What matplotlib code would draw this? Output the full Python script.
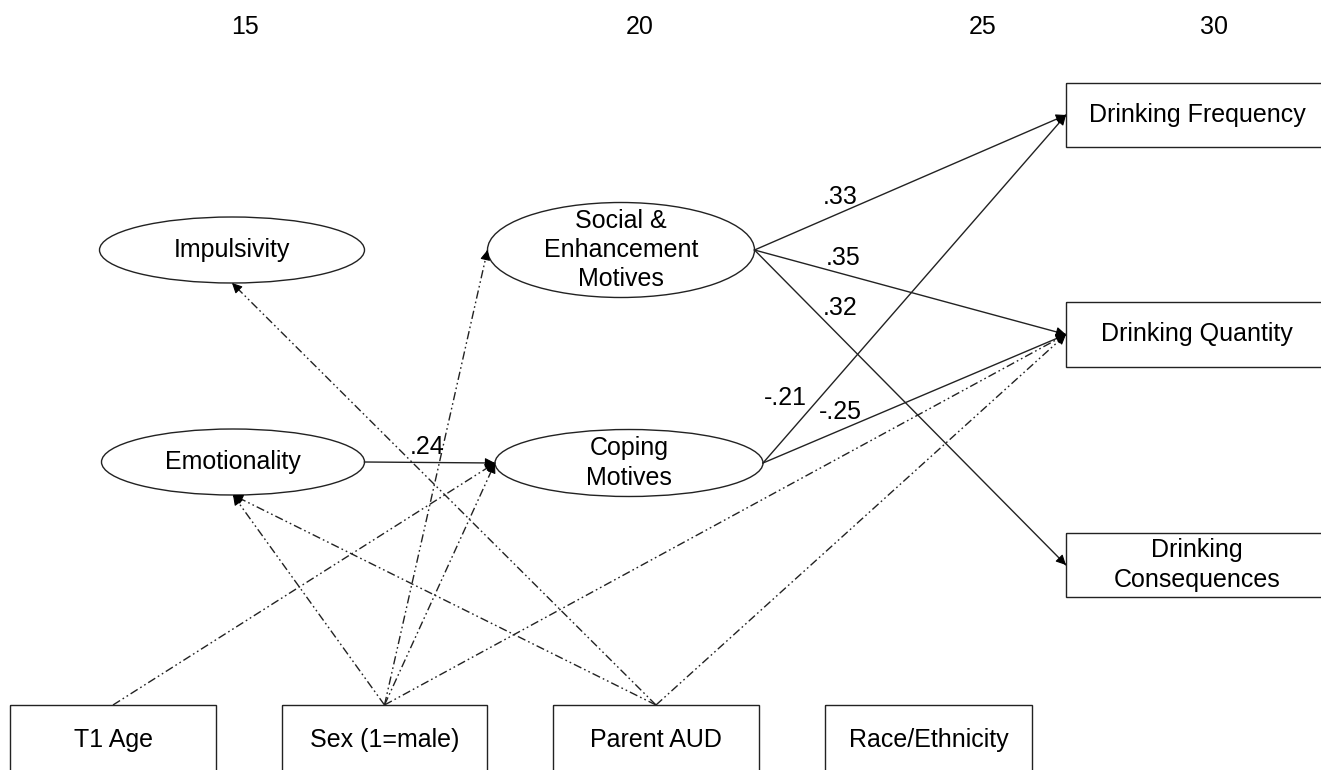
import numpy as np
import matplotlib
matplotlib.use('Agg')
import matplotlib.pyplot as plt
from matplotlib.patches import Ellipse, Rectangle

plt.rcParams['font.family'] = ['Liberation Sans', 'DejaVu Sans']

# age scale printed along the top
age_ticks = ['15', '20', '25', '30']
age_x = [245, 640, 983, 1214]

# latent variables (ellipses): label, centre, width, height
latent_names = ['Impulsivity', 'Emotionality', 'Social', 'Coping']
latent_text = ['Impulsivity', 'Emotionality', 'Social &\nEnhancement\nMotives', 'Coping\nMotives']
latent_xy = [(232, 250), (233, 462), (621, 250), (629, 463)]
latent_size = [(265, 66), (263, 66), (267, 95), (268, 67)]

# observed variables (boxes): label, left, top, width, height
box_names = ['DF', 'DQ', 'DC', 'T1 Age', 'Sex', 'Parent AUD', 'Race']
box_text = ['Drinking Frequency', 'Drinking Quantity', 'Drinking\nConsequences',
            'T1 Age', 'Sex (1=male)', 'Parent AUD', 'Race/Ethnicity']
box_xy = [(1066, 83), (1066, 302), (1066, 533),
          (10, 705), (282, 705), (553, 705), (825, 705)]
box_size = [(262, 64), (262, 65), (262, 64),
            (206, 70), (205, 70), (206, 70), (207, 70)]

# significant paths (solid) with standardized coefficients
path_from = ['Emotionality', 'Social', 'Social', 'Social', 'Coping', 'Coping']
path_to = ['Coping', 'DF', 'DQ', 'DC', 'DF', 'DQ']
path_coef = ['.24', '.33', '.35', '.32', '-.21', '-.25']
coef_xy = [(427, 447), (840, 197), (843, 258), (840, 308), (785, 398), (840, 412)]

# covariate paths (dash-dot-dot)
cov_from = ['Parent AUD', 'Sex', 'Sex', 'Sex', 'Sex', 'T1 Age', 'Parent AUD', 'Parent AUD']
cov_to = ['Impulsivity', 'Social', 'Coping', 'Emotionality', 'DQ', 'Coping', 'Emotionality', 'DQ']

W, H = 1321, 770
fig = plt.figure(figsize=(W / 100, H / 100), dpi=100)
ax = fig.add_axes([0, 0, 1, 1])
ax.set_xlim(0, W)
ax.set_ylim(H, 0)
ax.axis('off')

nodes = {}
for name, txt, (cx, cy), (w, h) in zip(latent_names, latent_text, latent_xy, latent_size):
    ax.add_patch(Ellipse((cx, cy), w, h, fill=False, ec='#222222', lw=1.0))
    ax.text(cx, cy, txt, ha='center', va='center', fontsize=18, linespacing=1.27)
    nodes[name] = dict(left=(cx - w / 2, cy), right=(cx + w / 2, cy),
                       top=(cx, cy - h / 2), bottom=(cx, cy + h / 2))

for name, txt, (x0, y0), (w, h) in zip(box_names, box_text, box_xy, box_size):
    ax.add_patch(Rectangle((x0, y0), w, h, fill=False, ec='#222222', lw=1.0))
    ax.text(x0 + w / 2, y0 + h / 2, txt, ha='center', va='center', fontsize=18, linespacing=1.27)
    nodes[name] = dict(left=(x0, y0 + h / 2), right=(x0 + w, y0 + h / 2),
                       top=(x0 + w / 2, y0), bottom=(x0 + w / 2, y0 + h))

for t, x in zip(age_ticks, age_x):
    ax.text(x, 27, t, ha='center', va='center', fontsize=18)


def draw_arrow(p0, p1, style):
    p0 = np.array(p0, float)
    p1 = np.array(p1, float)
    ax.plot([p0[0], p1[0]], [p0[1], p1[1]], color='#222222', lw=1.0, linestyle=style)
    u = (p1 - p0) / np.linalg.norm(p1 - p0)
    ax.annotate('', xy=p1, xytext=p1 - u * 2,
                arrowprops=dict(arrowstyle='-|>', color='black', lw=0.8,
                                mutation_scale=15, shrinkA=0, shrinkB=0))


for a, b in zip(path_from, path_to):
    draw_arrow(nodes[a]['right'], nodes[b]['left'], '-')

for c, (x, y) in zip(path_coef, coef_xy):
    ax.text(x, y, c, ha='center', va='center', fontsize=18)

dashdotdot = (0, (6, 2.2, 1.2, 2.2, 1.2, 2.2))
for a, b in zip(cov_from, cov_to):
    side = 'bottom' if b in ('Impulsivity', 'Emotionality') else 'left'
    draw_arrow(nodes[a]['top'], nodes[b][side], dashdotdot)

fig.savefig('out.png', dpi=100)
